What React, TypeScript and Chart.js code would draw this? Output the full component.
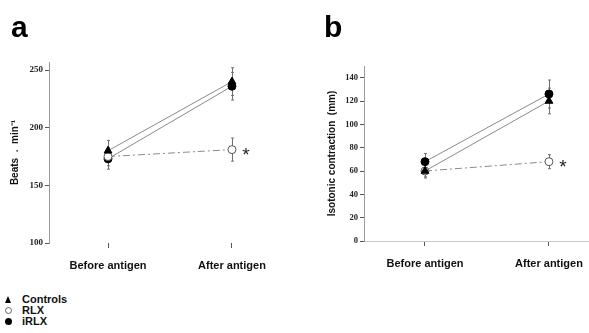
import React, { useEffect, useRef } from "react";
import { Chart, registerables } from "chart.js";
Chart.register(...registerables);

const categories = ["Before antigen", "After antigen"];
const seriesNames = ["Controls", "RLX", "iRLX"];

// Panel a: heart rate (Beats . min-1)
const beatsControls = [180, 240];
const beatsRLX = [175, 181];
const beatsIRLX = [173, 236];
const beatsControlsErr = [9, 12];
const beatsRLXErr = [8, 10];
const beatsIRLXErr = [9, 12];
const beatsTicks = [100, 150, 200, 250];

// Panel b: isotonic contraction (mm)
const contrControls = [60, 120];
const contrRLX = [60, 68];
const contrIRLX = [68, 126];
const contrControlsErr = [6, 11];
const contrRLXErr = [5, 6];
const contrIRLXErr = [7, 12];
const contrTicks = [0, 20, 40, 60, 80, 100, 120, 140];

type PanelCfg = {
  series: number[][];
  errs: number[][];
  ticks: number[];
  yMin: number;
  yMax: number;
  xMin: number;
  xMax: number;
  axisWidth: number;
  padTop: number;
  padRight: number;
  bottom: number;
  height: number;
  title: string;
  titlePad: number;
  tickSize: number;
  xBorder: boolean;
};

const SANS = "'Liberation Sans', Arial, sans-serif";
const SERIF = "'Liberation Serif', 'Times New Roman', serif";

function buildConfig(p: PanelCfg): any {
  const styles = [
    { pointStyle: "triangle", radius: 4.5, bg: "#000", border: "#000", dash: [] as number[] },
    { pointStyle: "circle", radius: 4, bg: "#fff", border: "#555", dash: [7, 3, 2, 3] },
    { pointStyle: "circle", radius: 4, bg: "#000", border: "#000", dash: [] as number[] },
  ];
  const datasets = p.series.map((vals, si) => ({
    label: seriesNames[si],
    data: vals.map((v, i) => ({ x: i, y: v })),
    borderColor: "#8a8a8a",
    borderWidth: 1,
    borderDash: styles[si].dash,
    pointStyle: styles[si].pointStyle,
    pointRadius: styles[si].radius,
    pointBackgroundColor: styles[si].bg,
    pointBorderColor: styles[si].border,
    pointBorderWidth: 1,
    fill: false,
    tension: 0,
  }));

  const errorBars = {
    id: "errorBars",
    beforeDatasetsDraw(chart: any) {
      const { ctx, scales } = chart;
      ctx.save();
      ctx.strokeStyle = "#707070";
      ctx.lineWidth = 1;
      p.series.forEach((vals, si) => {
        vals.forEach((v, i) => {
          const e = p.errs[si][i];
          const x = Math.round(scales.x.getPixelForValue(i)) + 0.5;
          const y1 = scales.y.getPixelForValue(v - e);
          const y2 = scales.y.getPixelForValue(v + e);
          ctx.beginPath();
          ctx.moveTo(x, y1);
          ctx.lineTo(x, y2);
          ctx.moveTo(x - 1.5, y1);
          ctx.lineTo(x + 1.5, y1);
          ctx.moveTo(x - 1.5, y2);
          ctx.lineTo(x + 1.5, y2);
          ctx.stroke();
        });
      });
      ctx.restore();
    },
    afterDatasetsDraw(chart: any) {
      const { ctx, scales } = chart;
      const rlx = p.series[1];
      const x = scales.x.getPixelForValue(1) + 14;
      const y = scales.y.getPixelForValue(rlx[1]);
      ctx.save();
      ctx.fillStyle = "#222";
      ctx.font = `19px ${SANS}`;
      ctx.textAlign = "center";
      ctx.textBaseline = "alphabetic";
      ctx.fillText("*", x, y + 11);
      ctx.restore();
    },
  };

  return {
    type: "line",
    data: { datasets },
    plugins: [errorBars],
    options: {
      animation: false,
      responsive: false,
      devicePixelRatio: 1,
      layout: { padding: { top: p.padTop, right: p.padRight, left: 0, bottom: 0 } },
      plugins: { legend: { display: false }, tooltip: { enabled: false } },
      scales: {
        x: {
          type: "linear",
          min: p.xMin,
          max: p.xMax,
          afterBuildTicks(scale: any) {
            scale.ticks = [{ value: 0 }, { value: 1 }];
          },
          afterFit(scale: any) {
            scale.height = p.height - p.bottom;
          },
          grid: { drawOnChartArea: false, drawTicks: true, tickLength: 5, color: "#555" },
          border: { display: p.xBorder, color: "#c8c8c8", dash: [2, 2] },
          ticks: {
            autoSkip: false,
            maxRotation: 0,
            padding: 11,
            color: "#111",
            font: { family: SANS, size: 11, weight: "bold" },
            callback: (v: any) => categories[Math.round(Number(v))] ?? "",
          },
        },
        y: {
          type: "linear",
          min: p.yMin,
          max: p.yMax,
          afterBuildTicks(scale: any) {
            scale.ticks = p.ticks.map((v) => ({ value: v }));
          },
          afterFit(scale: any) {
            scale.width = p.axisWidth;
          },
          grid: { drawOnChartArea: false, drawTicks: true, tickLength: 4, color: "#555" },
          border: { display: true, color: "#9a9a9a", width: 1 },
          ticks: {
            padding: 2,
            color: "#222",
            font: { family: SERIF, size: p.tickSize, weight: "bold" },
          },
          title: {
            display: true,
            text: p.title,
            color: "#111",
            padding: { top: p.titlePad, bottom: 0 },
            font: { family: SANS, size: 10, weight: "bold" },
          },
        },
      },
    },
  };
}

function Panel({ cfg, left, width, height }: { cfg: PanelCfg; left: number; width: number; height: number }) {
  const ref = useRef<HTMLCanvasElement>(null);
  useEffect(() => {
    const chart = new Chart(ref.current as HTMLCanvasElement, buildConfig(cfg));
    return () => chart.destroy();
  }, []);
  return (
    <canvas
      ref={ref}
      width={width}
      height={height}
      style={{ position: "absolute", left, top: 0, width, height }}
    />
  );
}

const panelA: PanelCfg = {
  series: [beatsControls, beatsRLX, beatsIRLX],
  errs: [beatsControlsErr, beatsRLXErr, beatsIRLXErr],
  ticks: beatsTicks,
  yMin: 100,
  yMax: 257,
  xMin: -0.476,
  xMax: 1.468,
  axisWidth: 49,
  padTop: 62,
  padRight: 10,
  bottom: 243,
  height: 290,
  title: "Beats  .  min\u207B\u00B9",
  titlePad: 9,
  tickSize: 9,
  xBorder: false,
};

const panelB: PanelCfg = {
  series: [contrControls, contrRLX, contrIRLX],
  errs: [contrControlsErr, contrRLXErr, contrIRLXErr],
  ticks: contrTicks,
  yMin: 0,
  yMax: 150,
  xMin: -0.492,
  xMax: 1.323,
  axisWidth: 64,
  padTop: 66,
  padRight: 50,
  bottom: 241,
  height: 290,
  title: "Isotonic contraction  (mm)",
  titlePad: 26,
  tickSize: 8.5,
  xBorder: true,
};

const legendItems = [
  { name: seriesNames[0], kind: "tri" },
  { name: seriesNames[1], kind: "open" },
  { name: seriesNames[2], kind: "fill" },
];

function Marker({ kind }: { kind: string }) {
  if (kind === "tri") {
    return (
      <div
        style={{
          width: 0,
          height: 0,
          borderLeft: "3.5px solid transparent",
          borderRight: "3.5px solid transparent",
          borderBottom: "7px solid #000",
        }}
      />
    );
  }
  return (
    <div
      style={{
        width: kind === "open" ? 5 : 7,
        height: kind === "open" ? 5 : 7,
        borderRadius: "50%",
        border: kind === "open" ? "1px solid #666" : "none",
        background: kind === "open" ? "#fff" : "#000",
      }}
    />
  );
}

export default function App() {
  return (
    <div
      style={{
        position: "absolute",
        left: 0,
        top: 0,
        width: 589,
        height: 333,
        background: "#fff",
        overflow: "hidden",
        fontFamily: SANS,
      }}
    >
      <Panel cfg={panelA} left={0} width={300} height={290} />
      <Panel cfg={panelB} left={300} width={339} height={290} />
      <div style={{ position: "absolute", left: 11, top: 12, fontSize: 30, fontWeight: "bold", lineHeight: 1, color: "#000" }}>a</div>
      <div style={{ position: "absolute", left: 324, top: 12, fontSize: 30, fontWeight: "bold", lineHeight: 1, color: "#000" }}>b</div>
      {legendItems.map((it, i) => (
        <div
          key={it.name}
          style={{
            position: "absolute",
            left: 4,
            top: 293 + i * 11,
            height: 12,
            display: "flex",
            alignItems: "center",
            fontSize: 11,
            fontWeight: "bold",
            color: "#111",
          }}
        >
          <div style={{ width: 17, display: "flex", justifyContent: "flex-start", paddingLeft: 1 }}>
            <Marker kind={it.kind} />
          </div>
          <span>{it.name}</span>
        </div>
      ))}
    </div>
  );
}
